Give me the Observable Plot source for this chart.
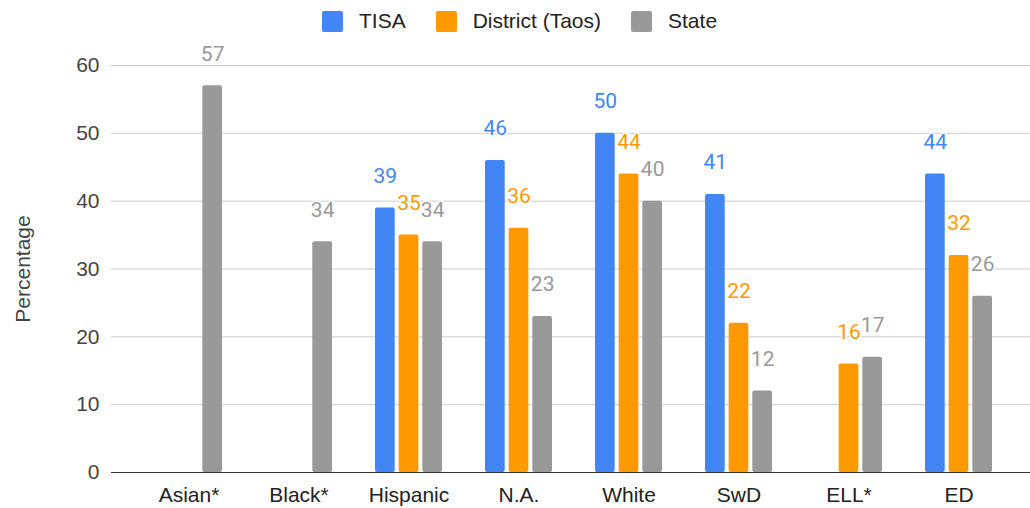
<!DOCTYPE html>
<html>
<head>
<meta charset="utf-8">
<script src="https://cdn.jsdelivr.net/npm/d3@7"></script>
<script src="https://cdn.jsdelivr.net/npm/@observablehq/plot@0.6"></script>
<style>
  html, body { margin: 0; padding: 0; background: #fff; }
  #wrap { position: relative; width: 1030px; height: 508px; }
  #legend { position: absolute; top: 9px; left: 322px; display: flex; align-items: center;
            font-family: "Liberation Sans", Arial, sans-serif; font-size: 21px; color: #222; }
  #legend .sw { width: 21px; height: 21px; border-radius: 2px; margin-right: 16px; }
  #legend .it { display: flex; align-items: center; margin-right: 30px; }
</style>
</head>
<body>
<div id="wrap"><div id="legend"></div></div>
<script>
const categories = ["Asian*", "Black*", "Hispanic", "N.A.", "White", "SwD", "ELL*", "ED"];
const seriesNames = ["TISA", "District (Taos)", "State"];
const tisa     = [null, null, 39, 46, 50, 41, null, 44];
const district = [null, null, 35, 36, 44, 22, 16, 32];
const state    = [57, 34, 34, 23, 40, 12, 17, 26];
const yTicks = [0, 10, 20, 30, 40, 50, 60];
const colors = ["#4285f4", "#ff9900", "#999999"];

const seriesValues = [tisa, district, state];
const data = [];
categories.forEach((c, i) => {
  seriesNames.forEach((s, j) => {
    const v = seriesValues[j][i];
    if (v != null) data.push({cat: c, series: s, value: v});
  });
});

const legend = document.getElementById("legend");
seriesNames.forEach((s, j) => {
  const it = document.createElement("div");
  it.className = "it";
  const sw = document.createElement("div");
  sw.className = "sw";
  sw.style.background = colors[j];
  const t = document.createElement("span");
  t.textContent = s;
  it.appendChild(sw); it.appendChild(t);
  legend.appendChild(it);
});

// group layout: band of ~67px, three 20px bars spaced 23.65px apart
const groupBand = 67.3, barW = 20, barStep = 23.65;
const inset = (groupBand - barW) / 2;
const seriesMarks = [];
seriesNames.forEach((s, j) => {
  const sub = data.filter(d => d.series === s);
  const off = (j - 1) * barStep;
  seriesMarks.push(Plot.barY(sub, {x: "cat", y: "value", fill: "series", rx: 2,
    insetLeft: inset, insetRight: inset, dx: off}));
});
seriesNames.forEach((s, j) => {
  const sub = data.filter(d => d.series === s);
  const off = (j - 1) * barStep;
  seriesMarks.push(Plot.text(sub, {x: "cat", y: "value", text: d => String(d.value), fill: "series",
    dx: off, dy: -32, fontFamily: "Roboto, sans-serif", fontSize: 21, stroke: "white", strokeWidth: 3,
    paintOrder: "stroke"}));
});

const chart = Plot.plot({
  width: 1030,
  height: 508,
  marginLeft: 111,
  marginRight: 0,
  marginTop: 65,
  marginBottom: 36,
  style: {fontFamily: "'Liberation Sans', Arial, sans-serif", fontSize: "21px", background: "transparent"},
  x: {domain: categories, paddingInner: 0.393, paddingOuter: 0, insetLeft: 40, insetRight: 35},
  y: {domain: [0, 60]},
  color: {domain: seriesNames, range: colors},
  marks: [
    Plot.ruleY(yTicks.filter(d => d !== 0), {stroke: "#cccccc", strokeWidth: 1}),
    ...seriesMarks,
    Plot.ruleY([0], {stroke: "#333333", strokeWidth: 1}),
    Plot.axisY({ticks: yTicks, tickSize: 0, tickPadding: 12, fill: "#444",
      label: "Percentage", labelAnchor: "center", labelArrow: "none", labelOffset: 96}),
    Plot.axisX({tickSize: 0, tickPadding: 15, label: null, fill: "#222"})
  ]
});
document.getElementById("wrap").insertBefore(chart, document.getElementById("legend"));
</script>
</body>
</html>
